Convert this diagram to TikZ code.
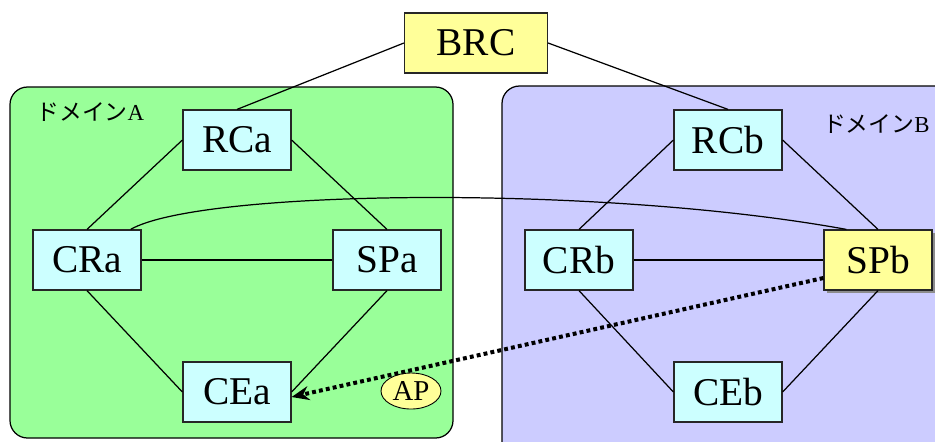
\documentclass[tikz,border=0pt]{standalone}
\usepackage{fontspec}
\setmainfont{Liberation Serif}
\newfontfamily\jpfont{Noto Sans CJK JP}
\usepackage{xcolor}
\usepackage{tikz}
\usetikzlibrary{arrows.meta,shadows,shapes.geometric}

\definecolor{domA}{HTML}{99FF99}
\definecolor{domB}{HTML}{CCCCFF}
\definecolor{boxcyan}{HTML}{CCFFFF}
\definecolor{boxyellow}{HTML}{FFFF99}

\tikzset{
  box/.style={draw=black!85, line width=0.7pt, fill=boxcyan,
    minimum width=2.16cm, minimum height=1.2cm, inner sep=0pt,
    font=\fontsize{22.4}{26}\selectfont},
  hotbox/.style={box, fill=boxyellow},
  domlabel/.style={inner sep=0pt, font=\fontsize{13}{15}\selectfont},
  link/.style={line width=0.7pt},
}

\begin{document}
\begin{tikzpicture}[x=0.02cm, y=-0.02cm]
  \useasboundingbox (0,0) rectangle (935,441);
  \clip (0,0) rectangle (935,441);

  % domains
  \draw[fill=domA, line width=0.7pt, rounded corners=0.35cm] (10,87) rectangle (453,438);
  \draw[fill=domB, line width=0.7pt, rounded corners=0.35cm] (502,86) rectangle (960,470);
  \node[domlabel, anchor=base west] (labA) at (36,120) {{\jpfont ドメイン}A};
  \node[domlabel, anchor=base east] (labB) at (930,132) {{\jpfont ドメイン}B};

  % border router
  \node[hotbox, minimum width=2.86cm] (brc) at (476,43) {BRC};

  % domain A
  \node[box] (rca) at (237,140) {RCa};
  \node[box] (cra) at (87,260) {CRa};
  \node[box] (spa) at (387,260) {SPa};
  \node[box] (cea) at (237,392) {CEa};

  % domain B
  \node[box] (rcb) at (728,140) {RCb};
  \node[box] (crb) at (579,260) {CRb};
  \node[hotbox, drop shadow={shadow xshift=1.8pt, shadow yshift=-1.8pt, fill=gray!90, opacity=1}] (spb) at (878,260) {SPb};
  \node[box] (ceb) at (728,392) {CEb};

  % links
  \draw[link] (brc.west) -- (rca.north);
  \draw[link] (brc.east) -- (rcb.north);

  \draw[link] (rca.west) -- (cra.north);
  \draw[link] (rca.east) -- (spa.north);
  \draw[link] (cra.east) -- (spa.west);
  \draw[link] (cra.south) -- (cea.west);
  \draw[link] (spa.south) -- (cea.east);

  \draw[link] (rcb.west) -- (crb.north);
  \draw[link] (rcb.east) -- (spb.north);
  \draw[link] (crb.east) -- (spb.west);
  \draw[link] (crb.south) -- (ceb.west);
  \draw[link] (spb.south) -- (ceb.east);

  % CRa -- SPb
  \draw[link] ([xshift=-0.22cm]cra.north east)
    .. controls +(70,-40) and +(-247,-45) .. ([xshift=0.46cm]spb.north west);

  % access path
  \node[ellipse, draw, line width=0.5pt, fill=boxyellow, inner sep=0pt,
    minimum width=1.2cm, minimum height=0.72cm,
    font=\fontsize{16.4}{19}\selectfont] (ap) at (411,391) {AP};
  \draw[line width=2.3pt, dash pattern=on 2.2pt off 1.8pt,
    -{Stealth[length=10pt, width=8pt]}]
    ([yshift=-0.36cm]spb.west) -- ([yshift=-0.1cm]cea.east);

\end{tikzpicture}
\end{document}
